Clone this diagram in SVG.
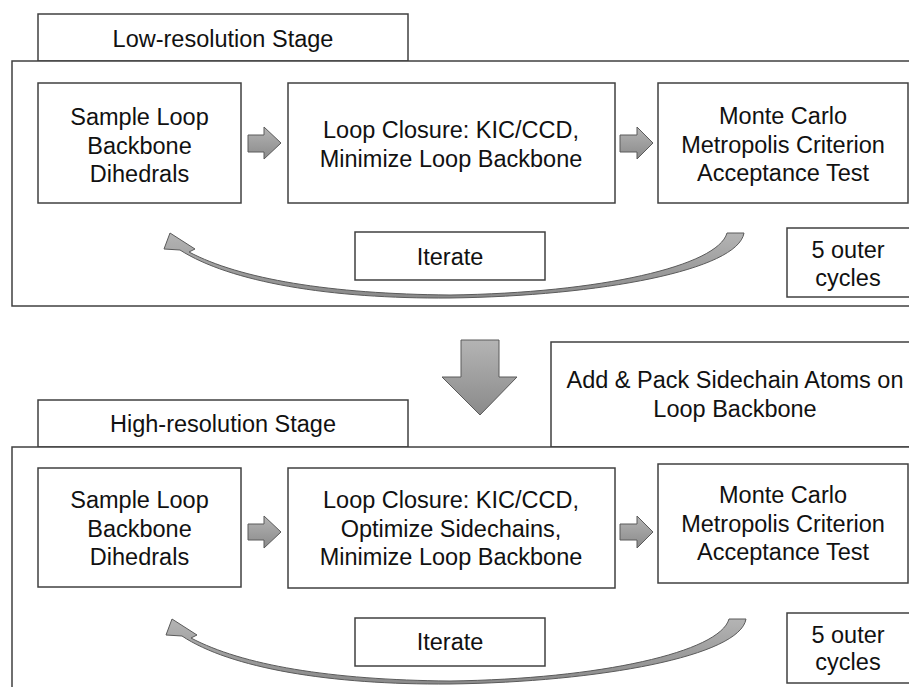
<svg xmlns="http://www.w3.org/2000/svg" width="909" height="687" viewBox="0 0 909 687">
<defs>
<linearGradient id="g" x1="0" y1="0" x2="0" y2="1">
<stop offset="0" stop-color="#b4b4b4"/>
<stop offset="1" stop-color="#8a8a8a"/>
</linearGradient>
<style>
.b{fill:#fff;stroke:#404040;stroke-width:1.5}
.t{font-family:"Liberation Sans",Arial,sans-serif;font-size:23.5px;fill:#111;text-anchor:middle}
.a{fill:url(#g);stroke:#5a5a5a;stroke-width:1}
</style>
</defs>
<rect width="909" height="687" fill="#fff"/>

<g id="low-stage">
<rect class="b" x="38" y="14" width="370" height="47"/>
<text class="t" x="223" y="47">Low-resolution Stage</text>
<rect class="b" x="12" y="61" width="910" height="245"/>
</g>
<g id="low-sample">
<rect class="b" x="38" y="83" width="203" height="120"/>
<text class="t" x="139.5" y="125">Sample Loop</text>
<text class="t" x="139.5" y="153.5">Backbone</text>
<text class="t" x="139.5" y="182">Dihedrals</text>
</g>
<g id="low-closure">
<rect class="b" x="288" y="83" width="327" height="120"/>
<text class="t" x="451" y="138">Loop Closure: KIC/CCD,</text>
<text class="t" x="451" y="167">Minimize Loop Backbone</text>
</g>
<g id="low-mc">
<rect class="b" x="658" y="83" width="250" height="120"/>
<text class="t" x="783" y="124">Monte Carlo</text>
<text class="t" x="783" y="153">Metropolis Criterion</text>
<text class="t" x="783" y="181">Acceptance Test</text>
</g>
<g id="low-iterate">
<rect class="b" x="355" y="232" width="190" height="48"/>
<text class="t" x="450" y="265">Iterate</text>
</g>
<g id="low-cycles">
<rect class="b" x="787" y="228" width="125" height="69"/>
<text class="t" x="848" y="258">5 outer</text>
<text class="t" x="848" y="286">cycles</text>
</g>

<g id="high-stage">
<rect class="b" x="38" y="400" width="370" height="47"/>
<text class="t" x="223" y="432">High-resolution Stage</text>
</g>
<g id="add-pack">
<rect class="b" x="551" y="342" width="370" height="105"/>
<text class="t" x="735" y="388">Add &amp; Pack Sidechain Atoms on</text>
<text class="t" x="735" y="417">Loop Backbone</text>
</g>
<rect class="b" x="12" y="447" width="910" height="260"/>
<g id="high-sample">
<rect class="b" x="38" y="468" width="203" height="119"/>
<text class="t" x="139.5" y="508">Sample Loop</text>
<text class="t" x="139.5" y="537">Backbone</text>
<text class="t" x="139.5" y="565">Dihedrals</text>
</g>
<g id="high-closure">
<rect class="b" x="288" y="468" width="327" height="120"/>
<text class="t" x="451" y="508">Loop Closure: KIC/CCD,</text>
<text class="t" x="451" y="537">Optimize Sidechains,</text>
<text class="t" x="451" y="565">Minimize Loop Backbone</text>
</g>
<g id="high-mc">
<rect class="b" x="658" y="464" width="250" height="119"/>
<text class="t" x="783" y="503">Monte Carlo</text>
<text class="t" x="783" y="532">Metropolis Criterion</text>
<text class="t" x="783" y="560">Acceptance Test</text>
</g>
<g id="high-iterate">
<rect class="b" x="355" y="618" width="190" height="48"/>
<text class="t" x="450" y="650">Iterate</text>
</g>
<g id="high-cycles">
<rect class="b" x="787" y="613" width="125" height="70"/>
<text class="t" x="848" y="643">5 outer</text>
<text class="t" x="848" y="670">cycles</text>
</g>

<g id="connectors">
<path class="a" d="M248 135 H264 V127 L281 143 L264 159 V152 H248 Z"/>
<path class="a" d="M620 135 H637 V127 L653 143 L637 159 V152 H620 Z"/>
<path class="a" d="M248 524 H264 V516 L281 532 L264 548 V540 H248 Z"/>
<path class="a" d="M620 524 H637 V516 L653 532 L637 548 V540 H620 Z"/>
<path class="a" d="M461 340 H499 V377 H517 L480 415 L442 377 H461 Z"/>
<path class="a" d="M744 233 C738 270 600 296 450 298 C330 299 230 282 180 250 L164 249 L170 233 L195 249 L189 252 C240 279 330 294 450 295 C600 293 718 266 727 233 Z"/>
<path class="a" d="M746 619 C740 656 600 682 450 684 C330 685 230 668 182 636 L166 635 L172 619 L197 635 L191 638 C242 665 330 680 450 681 C600 679 720 652 729 619 Z"/>
</g>
</svg>
